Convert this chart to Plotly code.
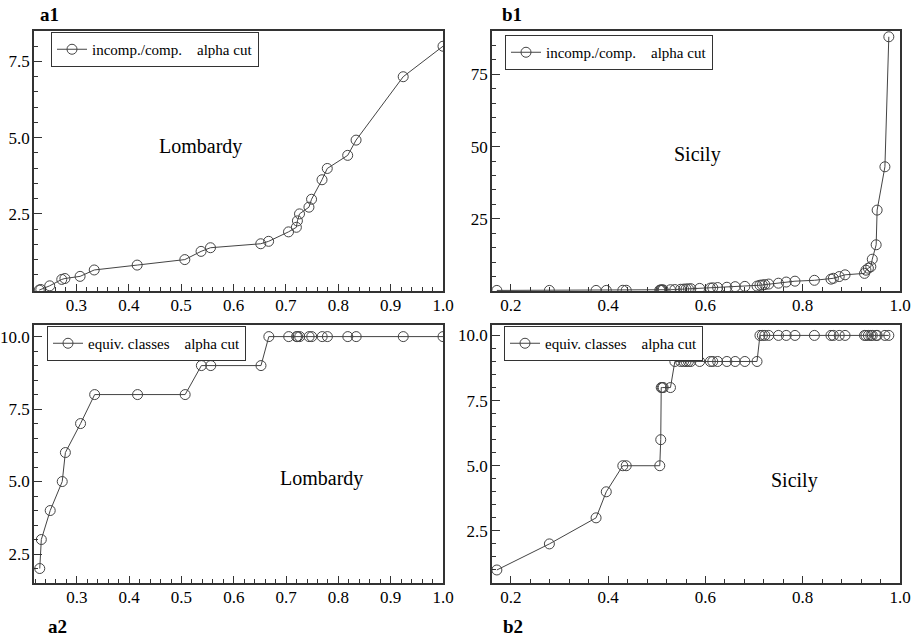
import plotly.graph_objects as go

# ---------------- data ----------------
# Lombardy (panels a1, a2) - shared alpha-cut values
lom_x = [0.229, 0.232, 0.249, 0.272, 0.278, 0.307, 0.334, 0.416, 0.507, 0.538,
         0.556, 0.652, 0.667, 0.705, 0.720, 0.722, 0.726, 0.744, 0.749, 0.769,
         0.779, 0.818, 0.834, 0.924, 1.0]
lom_ratio = [0.0, 0.02, 0.14, 0.35, 0.38, 0.45, 0.66, 0.82, 1.0, 1.27,
             1.39, 1.52, 1.6, 1.91, 2.06, 2.27, 2.5, 2.72, 2.98, 3.62,
             3.99, 4.42, 4.92, 7.0, 8.0]
lom_classes = [2, 3, 4, 5, 6, 7, 8, 8, 8, 9, 9, 9, 10, 10, 10, 10, 10, 10, 10,
               10, 10, 10, 10, 10, 10]

# Sicily (panels b1, b2)
sic_x = [0.171, 0.279, 0.375, 0.396, 0.430, 0.437, 0.506, 0.508, 0.509, 0.511,
         0.513, 0.528, 0.537, 0.549, 0.555, 0.560, 0.565, 0.570, 0.588, 0.610,
         0.615, 0.625, 0.644, 0.661, 0.681, 0.706, 0.712, 0.717, 0.722, 0.730,
         0.750, 0.766, 0.784, 0.824, 0.858, 0.863, 0.875, 0.887, 0.927, 0.930,
         0.935, 0.940, 0.943, 0.951, 0.953, 0.969, 0.977]
sic_ratio = [0.2, 0.2, 0.2, 0.2, 0.25, 0.25, 0.3, 0.3, 0.35, 0.35,
             0.4, 0.45, 0.5, 0.6, 0.65, 0.7, 0.75, 0.8, 0.9, 1.0,
             1.1, 1.2, 1.3, 1.5, 1.6, 1.7, 2.0, 2.1, 2.2, 2.4,
             2.7, 3.1, 3.4, 3.7, 4.1, 4.4, 5.0, 5.6, 6.1, 7.2,
             7.9, 8.4, 11.0, 16.0, 28.0, 43.0, 88.0]
sic_classes = [1, 2, 3, 4, 5, 5, 5, 6, 8, 8, 8, 8] + [9] * 14 + [10] * 21

legend_ratio = "incomp./comp.\u00a0\u00a0\u00a0\u00a0alpha cut"
legend_classes = "equiv. classes\u00a0\u00a0\u00a0\u00a0alpha cut"

lom_ratio_ticks = [2.5, 5.0, 7.5]
classes_ticks = [2.5, 5.0, 7.5, 10.0]
sic_ratio_ticks = [25, 50, 75]
lom_x_ticks = [0.3, 0.4, 0.5, 0.6, 0.7, 0.8, 0.9, 1.0]
sic_x_ticks = [0.2, 0.4, 0.6, 0.8, 1.0]

# ---------------- styling ----------------
FONT = "Liberation Serif, Times New Roman, serif"
W, H = 914, 637
LINE_COL = "#444444"
AX_COL = "#333333"

def px_x(p):
    return p / W

def px_y(p):
    return 1 - p / H

fig = go.Figure()

def add_series(x, y, name, xa, ya, leg):
    fig.add_trace(go.Scatter(
        x=x, y=y, name=name, mode="lines+markers",
        xaxis=xa, yaxis=ya, legend=leg,
        line=dict(color=LINE_COL, width=1),
        marker=dict(symbol="circle-open", size=10, color=LINE_COL,
                    line=dict(width=1, color=LINE_COL)),
        showlegend=True,
    ))

add_series(lom_x, lom_ratio, legend_ratio, "x", "y", "legend")
add_series(sic_x, sic_ratio, legend_ratio, "x2", "y2", "legend2")
add_series(lom_x, lom_classes, legend_classes, "x3", "y3", "legend3")
add_series(sic_x, sic_classes, legend_classes, "x4", "y4", "legend4")

tickfont = dict(family=FONT, size=17, color="black")

def xax(domain, rng, ticks, minor_dtick, anchor):
    return dict(domain=domain, range=rng, anchor=anchor, automargin=False,
                tickmode="array", tickvals=ticks,
                ticktext=["%.1f" % t for t in ticks],
                ticks="inside", ticklen=7, tickwidth=1, tickcolor=AX_COL,
                ticklabelstandoff=-2,
                minor=dict(tickmode="linear", tick0=0, dtick=minor_dtick,
                           ticks="inside", ticklen=4, tickwidth=1, tickcolor=AX_COL),
                showline=True, linecolor=AX_COL, linewidth=1.5, mirror=True,
                showgrid=False, zeroline=False, tickfont=tickfont)

def yax(domain, rng, ticks, fmt, minor_dtick, anchor):
    return dict(domain=domain, range=rng, anchor=anchor, automargin=False,
                tickmode="array", tickvals=ticks,
                ticktext=[fmt % t for t in ticks],
                ticks="inside", ticklen=8, tickwidth=1, tickcolor=AX_COL,
                ticklabelstandoff=-1,
                minor=dict(tickmode="linear", tick0=0, dtick=minor_dtick,
                           ticks="inside", ticklen=4, tickwidth=1, tickcolor=AX_COL),
                showline=True, linecolor=AX_COL, linewidth=1.5, mirror=True,
                showgrid=False, zeroline=False, tickfont=tickfont)

xa_left = [px_x(34), px_x(443)]
xa_right = [px_x(492), px_x(900)]
ya_top = [px_y(291), px_y(31)]
ya_bot = [px_y(583), px_y(325)]

def legend_box(xp, yp):
    return dict(x=px_x(xp), y=px_y(yp), xanchor="left", yanchor="top",
                bgcolor="white", bordercolor=AX_COL, borderwidth=1,
                font=dict(family=FONT, size=15, color="black"),
                itemwidth=30, tracegroupgap=0)

fig.update_layout(
    width=W, height=H,
    margin=dict(l=0, r=0, t=0, b=0, autoexpand=False),
    paper_bgcolor="white", plot_bgcolor="white",
    font=dict(family=FONT, color="black"),
    xaxis=xax(xa_left, [0.219, 1.0], lom_x_ticks, 0.02, "y"),
    yaxis=yax(ya_top, [-0.03, 8.5], lom_ratio_ticks, "%.1f", 0.5, "x"),
    xaxis2=xax(xa_right, [0.161, 1.0], sic_x_ticks, 0.04, "y2"),
    yaxis2=yax(ya_top, [0, 90], sic_ratio_ticks, "%d", 5, "x2"),
    xaxis3=xax(xa_left, [0.218, 1.0], lom_x_ticks, 0.02, "y3"),
    yaxis3=yax(ya_bot, [1.5, 10.4], classes_ticks, "%.1f", 0.5, "x3"),
    xaxis4=xax(xa_right, [0.161, 1.0], sic_x_ticks, 0.04, "y4"),
    yaxis4=yax(ya_bot, [0.5, 10.4], classes_ticks, "%.1f", 0.5, "x4"),
    legend=legend_box(51, 32),
    legend2=legend_box(505, 35),
    legend3=legend_box(47, 326),
    legend4=legend_box(504, 326),
)

annots = [
    dict(text="Lombardy", x=0.537, y=4.72, xref="x", yref="y", size=20),
    dict(text="Sicily", x=0.583, y=47.2, xref="x2", yref="y2", size=20),
    dict(text="Lombardy", x=0.767, y=5.1, xref="x3", yref="y3", size=20),
    dict(text="Sicily", x=0.784, y=4.42, xref="x4", yref="y4", size=20),
]
for a in annots:
    fig.add_annotation(text=a["text"], x=a["x"], y=a["y"], xref=a["xref"],
                       yref=a["yref"], showarrow=False,
                       xanchor="center", yanchor="middle",
                       font=dict(family=FONT, size=a["size"], color="black"))

panel_labels = [("a1", 49.5, 14), ("b1", 511.7, 14), ("a2", 57.5, 626), ("b2", 512.5, 626)]
for txt, xp, yp in panel_labels:
    fig.add_annotation(text="<b>%s</b>" % txt, x=px_x(xp), y=px_y(yp),
                       xref="paper", yref="paper", showarrow=False,
                       xanchor="center", yanchor="middle",
                       font=dict(family=FONT, size=19, color="black"))

fig.write_html("out.html",
               config={"displayModeBar": False},
               post_script="document.body.style.margin='0';")
